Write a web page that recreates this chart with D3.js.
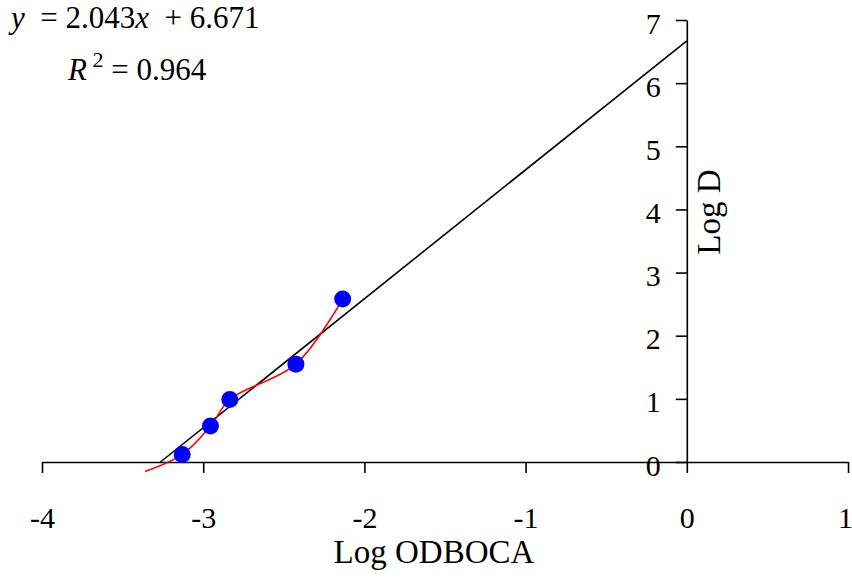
<!DOCTYPE html>
<html>
<head>
<meta charset="utf-8">
<script src="https://cdn.jsdelivr.net/npm/d3@7"></script>
<style>
  body { margin: 0; background: #fff; }
  svg { display: block; font-family: "Liberation Serif", "Times New Roman", serif; }
  .eq { white-space: pre; }
</style>
</head>
<body>
<div id="chart"></div>
<script>
// measured points (Log ODBOCA, Log D)
var pointX = [-3.13, -2.955, -2.835, -2.425, -2.135];
var pointY = [0.12, 0.57, 0.99, 1.55, 2.58];
// smoothed red curve starts a bit below the axis
var curveX = [-3.36, -3.13, -2.955, -2.835, -2.425, -2.135];
var curveY = [-0.15, 0.12, 0.57, 0.99, 1.55, 2.58];
var slope = 2.043, intercept = 6.671, rSquared = 0.964;
var xTicks = [-4, -3, -2, -1, 0, 1];
var yTicks = [0, 1, 2, 3, 4, 5, 6, 7];

var width = 852, height = 579;

var xScale = d3.scaleLinear().domain([-4, 1]).range([42, 848]);
var yScale = d3.scaleLinear().domain([0, 7]).range([462, 20]);

var svg = d3.select("#chart").append("svg")
    .attr("width", width)
    .attr("height", height);

// x axis sits on y = 0
var xAxis = d3.axisBottom(xScale)
    .tickValues(xTicks)
    .tickSize(11)
    .tickSizeOuter(0)
    .tickFormat(d3.format("d"));

var gx = svg.append("g")
    .attr("transform", "translate(0," + yScale(0) + ")")
    .call(xAxis);
gx.select(".domain").attr("stroke", "#000").attr("stroke-width", 1.6);
gx.selectAll(".tick line").attr("stroke", "#000").attr("stroke-width", 1.6);
gx.selectAll(".tick text")
    .attr("y", 0).attr("dy", null)
    .attr("transform", "translate(0,66)")
    .attr("dx", function (d) { return d === 1 ? -3 : 0; }) // keep last label inside the page
    .style("font-family", "Liberation Serif")
    .style("font-size", "30px")
    .attr("fill", "#000")
    .text(function (d) { return d < 0 ? "-" + Math.abs(d) : d; });

// y axis sits on x = 0
var yAxis = d3.axisLeft(yScale)
    .tickValues(yTicks)
    .tickSize(11)
    .tickSizeOuter(0)
    .tickFormat(d3.format("d"));

var gy = svg.append("g")
    .attr("transform", "translate(" + xScale(0) + ",0)")
    .call(yAxis);
gy.select(".domain").attr("stroke", "#000").attr("stroke-width", 1.6);
gy.selectAll(".tick line").attr("stroke", "#000").attr("stroke-width", 1.6);
gy.selectAll(".tick text")
    .attr("x", -26).attr("dy", null)
    .attr("y", 13)
    .style("font-family", "Liberation Serif")
    .style("font-size", "30px")
    .attr("fill", "#000");

// regression line from x-intercept to x = 0
var x0 = -intercept / slope;
svg.append("line")
    .attr("x1", xScale(x0)).attr("y1", yScale(0))
    .attr("x2", xScale(0)).attr("y2", yScale(intercept))
    .attr("stroke", "#000")
    .attr("stroke-width", 1.6);

// red smoothed curve
var curveData = curveX.map(function (x, i) { return [x, curveY[i]]; });
var line = d3.line()
    .x(function (d) { return xScale(d[0]); })
    .y(function (d) { return yScale(d[1]); })
    .curve(d3.curveCatmullRom.alpha(0.5));

svg.append("path")
    .datum(curveData)
    .attr("d", line)
    .attr("fill", "none")
    .attr("stroke", "#ff0000")
    .attr("stroke-width", 1.6);

// markers
svg.selectAll("circle.pt")
    .data(pointX.map(function (x, i) { return [x, pointY[i]]; }))
    .enter().append("circle")
    .attr("class", "pt")
    .attr("cx", function (d) { return xScale(d[0]); })
    .attr("cy", function (d) { return yScale(d[1]); })
    .attr("r", 8.5)
    .attr("fill", "#0000ff");

// axis titles
svg.append("text")
    .attr("x", 434).attr("y", 563)
    .attr("text-anchor", "middle")
    .style("font-size", "33px")
    .text("Log ODBOCA");

svg.append("text")
    .attr("transform", "translate(720,212) rotate(-90)")
    .attr("text-anchor", "middle")
    .style("font-size", "33px")
    .text("Log D");

// equation
var eq = svg.append("text")
    .attr("class", "eq")
    .attr("x", 11).attr("y", 28)
    .style("font-size", "31px");
eq.append("tspan").style("font-style", "italic").text("y");
eq.append("tspan").text("  = " + slope.toFixed(3));
eq.append("tspan").style("font-style", "italic").text("x");
eq.append("tspan").text("  + " + intercept.toFixed(3));

var r2 = svg.append("text")
    .attr("class", "eq")
    .attr("x", 68).attr("y", 80)
    .style("font-size", "31px");
r2.append("tspan").style("font-style", "italic").text("R");
r2.append("tspan").attr("dy", -13).style("font-size", "22px").text(" 2");
r2.append("tspan").attr("dy", 13).text(" = " + rSquared.toFixed(3));
</script>
</body>
</html>
